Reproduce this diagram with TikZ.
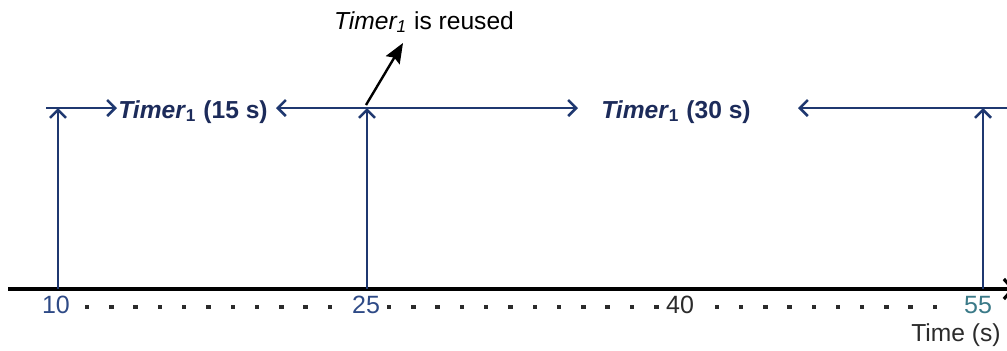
\documentclass[tikz,border=0pt]{standalone}
\usepackage{fontspec}
\setmainfont{Liberation Sans}
\usetikzlibrary{arrows.meta}
\definecolor{navy}{HTML}{1F3870}
\definecolor{navytext}{HTML}{1C2B5A}
\definecolor{tickblue}{HTML}{2E4A86}
\definecolor{tickteal}{HTML}{3B7A88}
\definecolor{tickgray}{HTML}{2B2B2B}
\begin{document}
\begin{tikzpicture}[x=0.5pt,y=-0.5pt,
  >={Straight Barb[length=4pt,width=8pt]},
  vline/.style={navy,line width=1.25pt,->},
  hline/.style={navy,line width=1.25pt},
  timerlab/.style={font=\fontsize{12.3}{14}\selectfont\bfseries,text=navytext,inner sep=0pt,anchor=base},
  ticklab/.style={font=\fontsize{12.5}{14}\selectfont,inner sep=0pt,anchor=base},
  dotmark/.style={fill=tickgray}]
\useasboundingbox (0,0) rectangle (1007,350);
\clip (0,0) rectangle (1007,350);

% time axis
\coordinate (a0) at (8,289);
\coordinate (a1) at (1015,289);
\draw[black,line width=1.6pt,-{Straight Barb[length=4.5pt,width=10pt]}] (a0) -- (a1);

% vertical event arrows
\coordinate (b10) at (58,289);  \coordinate (t10) at (58,108);
\coordinate (b25) at (367,289); \coordinate (t25) at (367,108);
\coordinate (b55) at (983,289); \coordinate (t55) at (983,108);
\draw[vline] (b10) -- (t10);
\draw[vline] (b25) -- (t25);
\draw[vline] (b55) -- (t55);

% timer labels
\node[timerlab] (lab15) at (193,118) {\textit{Timer}\textsubscript{1} (15 s)};
\node[timerlab] (lab30) at (676,118) {\textit{Timer}\textsubscript{1} (30 s)};

% horizontal timer spans
\coordinate (h0) at (46,108);
\coordinate (h0e) at (117,108);
\coordinate (h1a) at (276,108);
\coordinate (h1b) at (578,108);
\coordinate (h2a) at (798,108);
\coordinate (h2b) at (1012,108);
\draw[hline,->] (h0) -- (h0e);
\draw[hline,<->] (h1a) -- (h1b);
\draw[hline,<-] (h2a) -- (h2b);

% annotation
\node[font=\fontsize{12.3}{14}\selectfont,inner sep=0pt,anchor=base] (reuse) at (424,29) {\textit{Timer\textsubscript{1}} is reused};
\coordinate (rtail) at (366,105);
\coordinate (rtip) at (403,43);
\draw[black,line width=1.2pt,-{Stealth[length=10pt,width=8pt,inset=1.5pt]}] (rtail) -- (rtip);

% tick labels
\node[ticklab,text=tickblue] (n10) at (56,313) {10};
\node[ticklab,text=tickblue] (n25) at (366,313) {25};
\node[ticklab,text=tickgray] (n40) at (680,313) {40};
\node[ticklab,text=tickteal] (n55) at (978,313) {55};
\node[font=\fontsize{12.3}{14}\selectfont,inner sep=0pt,anchor=base,text=tickgray] (tlab) at (956,341) {Time (s)};

% dotted spacing
\foreach \k in {0,...,10} {\fill[dotmark] ({87+24.3*\k-2.25},304.75) rectangle ++(4.5,4.5);}
\foreach \k in {0,...,11} {\fill[dotmark] ({389+24.3*\k-2.25},304.75) rectangle ++(4.5,4.5);}
\foreach \k in {0,...,9} {\fill[dotmark] ({717+24.2*\k-2.25},304.75) rectangle ++(4.5,4.5);}
\end{tikzpicture}
\end{document}
